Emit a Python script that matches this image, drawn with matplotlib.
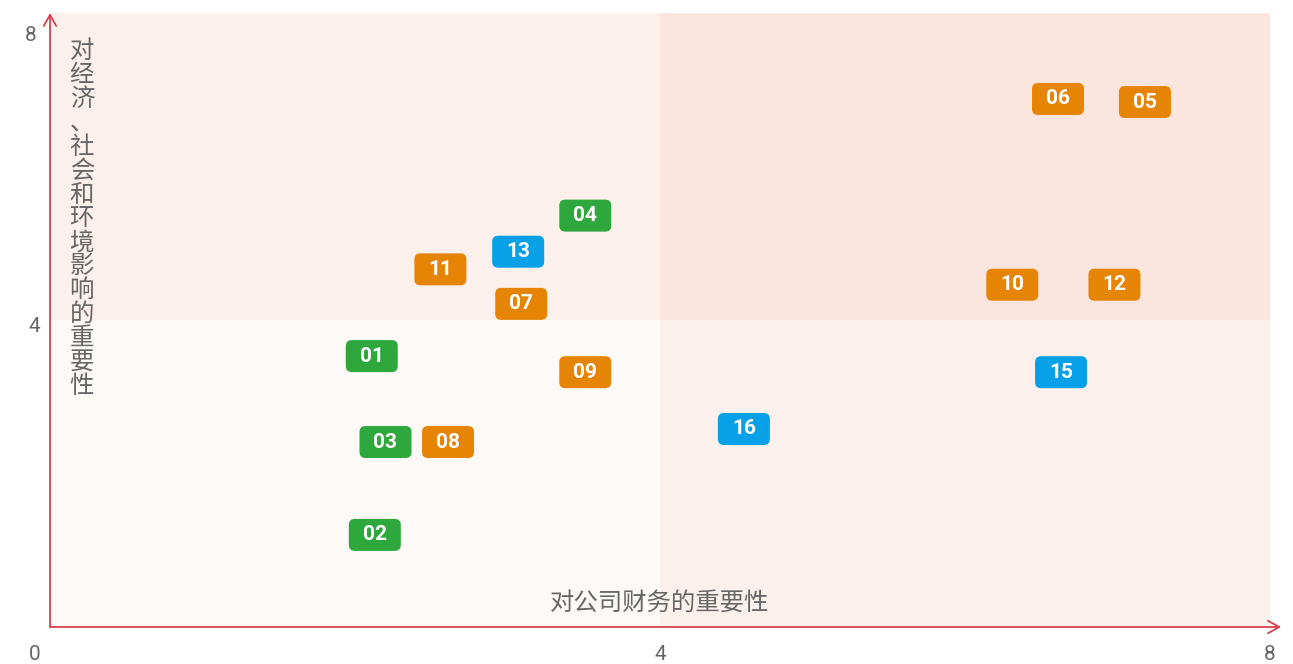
import matplotlib.pyplot as plt
import numpy as np
from matplotlib.patches import FancyBboxPatch, Rectangle
from matplotlib.transforms import ScaledTranslation

plt.rcParams['font.family'] = ['Noto Sans CJK SC', 'DejaVu Sans']

# -----------------------------
# Data
# -----------------------------
labels = ["01", "02", "03", "04", "05", "06", "07", "08",
          "09", "10", "11", "12", "13", "15", "16"]
x_vals = [2.11, 2.13, 2.20, 3.51, 7.18, 6.61, 3.09, 2.61,
          3.51, 6.31, 2.56, 6.98, 3.07, 6.63, 4.55]
y_vals = [3.53, 1.20, 2.41, 5.36, 6.84, 6.88, 4.21, 2.41,
          3.32, 4.46, 4.66, 4.46, 4.89, 3.32, 2.58]
groups = ["g", "g", "g", "g", "o", "o", "o", "o",
          "o", "o", "o", "o", "b", "b", "b"]

x_title = "对公司财务的重要性"
y_title = "对经济、社会和环境影响的重要性"
tick_vals = [0, 4, 8]

colors = {"g": "#2EA83C", "o": "#E68405", "b": "#08A0E6"}
axis_red = "#D8404F"
text_gray = "#666666"

# -----------------------------
# Figure
# -----------------------------
W, H = 1293, 664
fig = plt.figure(figsize=(W / 100, H / 100), dpi=100)
ax = fig.add_axes([50 / W, (H - 627) / H, (1270 - 50) / W, (627 - 13) / H])
ax.set_xlim(0, 8)
ax.set_ylim(0, 8)
ax.axis("off")

# quadrant backgrounds
quad = {(0, 0): "#FDF9F7", (4, 0): "#FBF0EB", (0, 4): "#FBF0EB", (4, 4): "#FAE6DE"}
for (qx, qy), c in quad.items():
    ax.add_patch(Rectangle((qx, qy), 4, 4, facecolor=c, edgecolor="none", zorder=0))

# axes with arrows
ax.annotate("", xy=(0, 1.0), xycoords="axes fraction", xytext=(0, 0),
            arrowprops=dict(arrowstyle="->,head_length=0.8,head_width=0.45",
                            color=axis_red, lw=1.3, shrinkA=0, shrinkB=0))
ax.annotate("", xy=(1.009, 0), xycoords="axes fraction", xytext=(0, 0),
            arrowprops=dict(arrowstyle="->,head_length=0.8,head_width=0.45",
                            color=axis_red, lw=1.3, shrinkA=0, shrinkB=0))

# tick labels
tick_kw = dict(textcoords="offset points", ha="center", va="center",
               fontsize=15, color=text_gray, family="Roboto")
ax.annotate("0", xy=(0, 0), xytext=(-11, -20), **tick_kw)
for v in tick_vals[1:]:
    ax.annotate(str(v), xy=(v, 0), xytext=(0, -20), **tick_kw)
ax.annotate("8", xy=(0, 8), xytext=(-14, -16), **tick_kw)
ax.annotate("4", xy=(0, 4), xytext=(-11, -5), **tick_kw)

# axis titles
ax.text(0.5, 0.04, x_title, transform=ax.transAxes, ha="center", va="center",
        fontsize=17.6, color=text_gray)
ax.text(0.026, 0.959, "\n".join(y_title), transform=ax.transAxes, ha="center", va="top",
        fontsize=17.6, color=text_gray, linespacing=0.895)

# -----------------------------
# Labelled boxes
# -----------------------------
bw, bh = 0.52, 0.32  # inches
for lab, x, y, g in zip(labels, x_vals, y_vals, groups):
    tr = fig.dpi_scale_trans + ScaledTranslation(x, y, ax.transData)
    ax.add_patch(FancyBboxPatch((-bw / 2, -bh / 2), bw, bh,
                                boxstyle="round,pad=0,rounding_size=0.06",
                                transform=tr, facecolor=colors[g],
                                edgecolor="none", zorder=3, clip_on=False))
    ax.text(x, y, lab, ha="center", va="center", color="white", fontsize=15,
            fontweight="bold", family="Roboto", zorder=4)

fig.savefig("out.png", dpi=100)
